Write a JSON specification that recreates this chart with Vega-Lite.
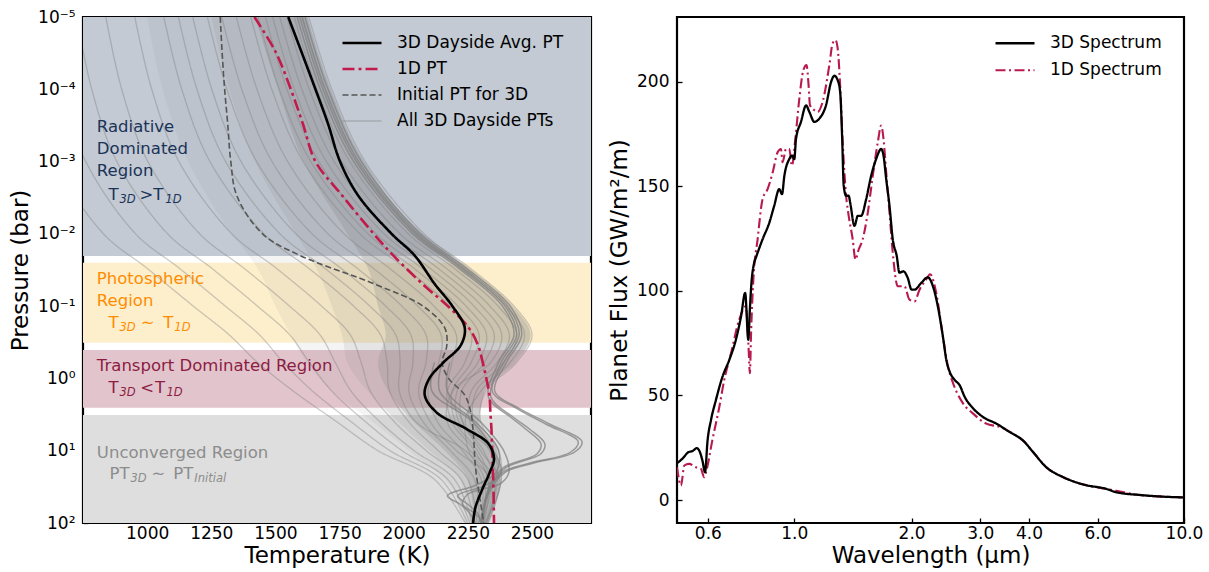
{
"$schema":"https://vega.github.io/schema/vega-lite/v6.json",
"padding":{"left":8,"top":6,"right":4,"bottom":0},
"background":"white",
"config":{
 "font":"DejaVu Sans",
 "view":{"stroke":"black","strokeWidth":2.2},
 "axis":{"grid":false,"domain":false,"tickColor":"black","tickSize":-5,"tickWidth":1.3,"labelFontSize":17,"labelColor":"black","titleFontSize":23,"titleFontWeight":"normal","titleColor":"black","labelFont":"DejaVu Sans","titleFont":"DejaVu Sans","labelOverlap":false},
 "axisX":{"labelPadding":7,"titlePadding":3},
 "axisY":{"labelPadding":13,"titlePadding":5},
 "legend":{"labelFontSize":17,"labelColor":"black","labelFont":"DejaVu Sans","symbolType":"stroke","padding":0,"rowPadding":0,"clipHeight":26,"labelOffset":14,"symbolSize":1521,"labelLimit":400}
},
"datasets":{
 "bands":[
  {"b":"rad","p0":1e-5,"p1":0.0202},
  {"b":"pho","p0":0.0251,"p1":0.32},
  {"b":"tra","p0":0.404,"p1":2.54},
  {"b":"unc","p0":3.2,"p1":100}
 ],
 "cloud":[
  {"p":1e-5,"s":"All 3D Dayside PTs","g01":1630,"g02":1602,"g03":1574,"g04":1545,"g05":1517,"g06":1489,"g07":1461,"g08":1432,"g09":1404,"g10":1348,"g11":1291,"g12":1235,"g13":1178,"g14":1122,"g15":1065,"g16":952,"g17":839,"g18":726,"g19":613,"g20":500,"cl":1420,"cr":1625,"hl":1250,"wl":1000},
  {"p":1e-4,"s":"All 3D Dayside PTs","g01":1720,"g02":1691,"g03":1662,"g04":1632,"g05":1603,"g06":1574,"g07":1545,"g08":1515,"g09":1486,"g10":1428,"g11":1369,"g12":1311,"g13":1252,"g14":1194,"g15":1135,"g16":1018,"g17":901,"g18":784,"g19":667,"g20":550,"cl":1510,"cr":1715,"hl":1320,"wl":1060},
  {"p":1e-3,"s":"All 3D Dayside PTs","g01":1850,"g02":1820,"g03":1790,"g04":1759,"g05":1729,"g06":1699,"g07":1669,"g08":1638,"g09":1608,"g10":1548,"g11":1487,"g12":1427,"g13":1366,"g14":1306,"g15":1245,"g16":1124,"g17":1003,"g18":882,"g19":761,"g20":640,"cl":1610,"cr":1845,"hl":1420,"wl":1160},
  {"p":0.01,"s":"All 3D Dayside PTs","g01":2080,"g02":2049,"g03":2018,"g04":1986,"g05":1955,"g06":1924,"g07":1893,"g08":1861,"g09":1830,"g10":1768,"g11":1705,"g12":1643,"g13":1580,"g14":1518,"g15":1455,"g16":1330,"g17":1205,"g18":1080,"g19":955,"g20":830,"cl":1780,"cr":2075,"hl":1580,"wl":1330},
  {"p":0.03,"s":"All 3D Dayside PTs","g01":2260,"g02":2229,"g03":2197,"g04":2166,"g05":2134,"g06":2103,"g07":2071,"g08":2040,"g09":2008,"g10":1945,"g11":1882,"g12":1819,"g13":1756,"g14":1693,"g15":1630,"g16":1504,"g17":1378,"g18":1252,"g19":1126,"g20":1000,"cl":1860,"cr":2255,"hl":1660,"wl":1430},
  {"p":0.1,"s":"All 3D Dayside PTs","g01":2430,"g02":2399,"g03":2368,"g04":2336,"g05":2305,"g06":2274,"g07":2243,"g08":2211,"g09":2180,"g10":2118,"g11":2055,"g12":1993,"g13":1930,"g14":1868,"g15":1805,"g16":1680,"g17":1555,"g18":1430,"g19":1305,"g20":1180,"cl":1900,"cr":2425,"hl":1720,"wl":1500},
  {"p":0.25,"s":"All 3D Dayside PTs","g01":2500,"g02":2471,"g03":2441,"g04":2412,"g05":2382,"g06":2353,"g07":2323,"g08":2294,"g09":2264,"g10":2205,"g11":2146,"g12":2087,"g13":2028,"g14":1969,"g15":1910,"g16":1792,"g17":1674,"g18":1556,"g19":1438,"g20":1320,"cl":1930,"cr":2495,"hl":1760,"wl":1560},
  {"p":0.6,"s":"All 3D Dayside PTs","g01":2440,"g02":2415,"g03":2390,"g04":2364,"g05":2339,"g06":2314,"g07":2289,"g08":2263,"g09":2238,"g10":2188,"g11":2137,"g12":2087,"g13":2036,"g14":1986,"g15":1935,"g16":1834,"g17":1733,"g18":1632,"g19":1531,"g20":1430,"cl":1900,"cr":2435,"hl":1780,"wl":1620},
  {"p":1.5,"s":"All 3D Dayside PTs","g01":2320,"g02":2301,"g03":2283,"g04":2264,"g05":2190,"g06":2226,"g07":2208,"g08":2189,"g09":2170,"g10":2170,"g11":2095,"g12":2058,"g13":2020,"g14":1983,"g15":1945,"g16":1870,"g17":1795,"g18":1720,"g19":1645,"g20":1570,"cl":1940,"cr":2315,"hl":1860,"wl":1720},
  {"p":4,"s":"All 3D Dayside PTs","g01":2300,"g02":2240,"g03":2272,"g04":2258,"g05":2170,"g06":2230,"g07":2216,"g08":2202,"g09":2188,"g10":2230,"g11":2132,"g12":2104,"g13":2076,"g14":2048,"g15":2020,"g16":1964,"g17":1908,"g18":1852,"g19":1796,"g20":1740,"cl":2040,"cr":2295,"hl":1980,"wl":1880},
  {"p":10,"s":"All 3D Dayside PTs","g01":2370,"g02":2300,"g03":2347,"g04":2335,"g05":2260,"g06":2311,"g07":2340,"g08":2288,"g09":2276,"g10":2253,"g11":2229,"g12":2206,"g13":2182,"g14":2240,"g15":2135,"g16":2088,"g17":2041,"g18":1994,"g19":1947,"g20":1900,"cl":2160,"cr":2365,"hl":2100,"wl":2020},
  {"p":25,"s":"All 3D Dayside PTs","g01":2380,"g02":2374,"g03":2367,"g04":2361,"g05":2354,"g06":2348,"g07":2380,"g08":2335,"g09":2328,"g10":2315,"g11":2302,"g12":2340,"g13":2276,"g14":2330,"g15":2250,"g16":2224,"g17":2198,"g18":2172,"g19":2146,"g20":2120,"cl":2250,"cr":2375,"hl":2220,"wl":2160},
  {"p":100,"s":"All 3D Dayside PTs","g01":2330,"g02":2328,"g03":2326,"g04":2323,"g05":2321,"g06":2319,"g07":2317,"g08":2314,"g09":2312,"g10":2308,"g11":2303,"g12":2299,"g13":2294,"g14":2290,"g15":2285,"g16":2276,"g17":2267,"g18":2258,"g19":2249,"g20":2240,"cl":2275,"cr":2325,"hl":2260,"wl":2240}
 ],
 "outl":[
  {"id":"o1a","p":1e-5,"t":1615},{"id":"o1a","p":1e-4,"t":1705},{"id":"o1a","p":1e-3,"t":1835},{"id":"o1a","p":0.01,"t":2065},{"id":"o1a","p":0.03,"t":2245},{"id":"o1a","p":0.1,"t":2415},{"id":"o1a","p":0.25,"t":2460},{"id":"o1a","p":0.6,"t":2400},{"id":"o1a","p":1.5,"t":2355},{"id":"o1a","p":2.6,"t":2450},{"id":"o1a","p":4.3,"t":2570},{"id":"o1a","p":7.5,"t":2695},{"id":"o1a","p":10.5,"t":2665},{"id":"o1a","p":15,"t":2500},{"id":"o1a","p":20,"t":2395},{"id":"o1a","p":40,"t":2330},{"id":"o1a","p":100,"t":2310},
  {"id":"o1b","p":1e-5,"t":1605},{"id":"o1b","p":1e-4,"t":1695},{"id":"o1b","p":1e-3,"t":1825},{"id":"o1b","p":0.01,"t":2055},{"id":"o1b","p":0.03,"t":2235},{"id":"o1b","p":0.1,"t":2405},{"id":"o1b","p":0.25,"t":2450},{"id":"o1b","p":0.6,"t":2390},{"id":"o1b","p":1.5,"t":2345},{"id":"o1b","p":2.6,"t":2440},{"id":"o1b","p":4.3,"t":2555},{"id":"o1b","p":7.5,"t":2680},{"id":"o1b","p":10.5,"t":2650},{"id":"o1b","p":15,"t":2485},{"id":"o1b","p":20,"t":2385},{"id":"o1b","p":40,"t":2325},{"id":"o1b","p":100,"t":2305},
  {"id":"o2a","p":1e-5,"t":1595},{"id":"o2a","p":1e-4,"t":1685},{"id":"o2a","p":1e-3,"t":1815},{"id":"o2a","p":0.01,"t":2045},{"id":"o2a","p":0.03,"t":2225},{"id":"o2a","p":0.1,"t":2395},{"id":"o2a","p":0.25,"t":2440},{"id":"o2a","p":0.6,"t":2380},{"id":"o2a","p":1.8,"t":2340},{"id":"o2a","p":3.5,"t":2430},{"id":"o2a","p":5,"t":2490},{"id":"o2a","p":8,"t":2550},{"id":"o2a","p":11,"t":2535},{"id":"o2a","p":17,"t":2400},{"id":"o2a","p":30,"t":2340},{"id":"o2a","p":100,"t":2300},
  {"id":"o2b","p":1e-5,"t":1585},{"id":"o2b","p":1e-4,"t":1675},{"id":"o2b","p":1e-3,"t":1805},{"id":"o2b","p":0.01,"t":2035},{"id":"o2b","p":0.03,"t":2215},{"id":"o2b","p":0.1,"t":2385},{"id":"o2b","p":0.25,"t":2430},{"id":"o2b","p":0.6,"t":2370},{"id":"o2b","p":1.8,"t":2330},{"id":"o2b","p":3.5,"t":2420},{"id":"o2b","p":5,"t":2475},{"id":"o2b","p":8,"t":2535},{"id":"o2b","p":11,"t":2520},{"id":"o2b","p":17,"t":2390},{"id":"o2b","p":30,"t":2335},{"id":"o2b","p":100,"t":2300},
  {"id":"w1","p":0.6,"t":2150},{"id":"w1","p":1.5,"t":2140},{"id":"w1","p":4,"t":2280},{"id":"w1","p":10,"t":2370},{"id":"w1","p":20,"t":2360},{"id":"w1","p":30,"t":2280},{"id":"w1","p":42,"t":2170},{"id":"w1","p":55,"t":2220},{"id":"w1","p":75,"t":2260},{"id":"w1","p":100,"t":2280},
  {"id":"w2","p":0.6,"t":2120},{"id":"w2","p":1.5,"t":2110},{"id":"w2","p":4,"t":2270},{"id":"w2","p":10,"t":2350},{"id":"w2","p":20,"t":2380},{"id":"w2","p":30,"t":2320},{"id":"w2","p":42,"t":2210},{"id":"w2","p":55,"t":2250},{"id":"w2","p":75,"t":2290},{"id":"w2","p":100,"t":2300},
  {"id":"w3","p":0.6,"t":2180},{"id":"w3","p":1.5,"t":2170},{"id":"w3","p":4,"t":2300},{"id":"w3","p":10,"t":2390},{"id":"w3","p":20,"t":2410},{"id":"w3","p":28,"t":2380},{"id":"w3","p":40,"t":2250},{"id":"w3","p":55,"t":2230},{"id":"w3","p":75,"t":2280},{"id":"w3","p":100,"t":2310}
 ],
 "pt":[
  {"s":"Initial PT for 3D","p":1e-5,"t":1285},{"s":"Initial PT for 3D","p":3e-5,"t":1292},{"s":"Initial PT for 3D","p":1e-4,"t":1302},{"s":"Initial PT for 3D","p":3e-4,"t":1314},{"s":"Initial PT for 3D","p":1e-3,"t":1326},{"s":"Initial PT for 3D","p":3e-3,"t":1350},{"s":"Initial PT for 3D","p":0.01,"t":1450},{"s":"Initial PT for 3D","p":0.02,"t":1597},{"s":"Initial PT for 3D","p":0.05,"t":1890},{"s":"Initial PT for 3D","p":0.1,"t":2075},{"s":"Initial PT for 3D","p":0.2,"t":2160},{"s":"Initial PT for 3D","p":0.35,"t":2168},{"s":"Initial PT for 3D","p":0.6,"t":2150},{"s":"Initial PT for 3D","p":1,"t":2175},{"s":"Initial PT for 3D","p":1.7,"t":2238},{"s":"Initial PT for 3D","p":3,"t":2262},{"s":"Initial PT for 3D","p":5,"t":2270},{"s":"Initial PT for 3D","p":8,"t":2274},{"s":"Initial PT for 3D","p":13,"t":2277},{"s":"Initial PT for 3D","p":20,"t":2282},{"s":"Initial PT for 3D","p":35,"t":2292},{"s":"Initial PT for 3D","p":60,"t":2302},{"s":"Initial PT for 3D","p":100,"t":2312},
  {"s":"1D PT","p":1e-5,"t":1418},{"s":"1D PT","p":3e-5,"t":1500},{"s":"1D PT","p":1e-4,"t":1560},{"s":"1D PT","p":3e-4,"t":1607},{"s":"1D PT","p":1e-3,"t":1656},{"s":"1D PT","p":3e-3,"t":1762},{"s":"1D PT","p":0.01,"t":1883},{"s":"1D PT","p":0.02,"t":1960},{"s":"1D PT","p":0.05,"t":2075},{"s":"1D PT","p":0.1,"t":2172},{"s":"1D PT","p":0.2,"t":2254},{"s":"1D PT","p":0.35,"t":2290},{"s":"1D PT","p":0.6,"t":2308},{"s":"1D PT","p":1,"t":2322},{"s":"1D PT","p":1.7,"t":2334},{"s":"1D PT","p":3,"t":2338},{"s":"1D PT","p":5,"t":2342},{"s":"1D PT","p":8,"t":2344},{"s":"1D PT","p":13,"t":2346},{"s":"1D PT","p":20,"t":2348},{"s":"1D PT","p":35,"t":2350},{"s":"1D PT","p":60,"t":2351},{"s":"1D PT","p":100,"t":2352},
  {"s":"3D Dayside Avg. PT","p":1e-5,"t":1550},{"s":"3D Dayside Avg. PT","p":3e-5,"t":1601},{"s":"3D Dayside Avg. PT","p":1e-4,"t":1656},{"s":"3D Dayside Avg. PT","p":3e-4,"t":1705},{"s":"3D Dayside Avg. PT","p":1e-3,"t":1752},{"s":"3D Dayside Avg. PT","p":3e-3,"t":1824},{"s":"3D Dayside Avg. PT","p":0.01,"t":1953},{"s":"3D Dayside Avg. PT","p":0.02,"t":2043},{"s":"3D Dayside Avg. PT","p":0.05,"t":2122},{"s":"3D Dayside Avg. PT","p":0.1,"t":2190},{"s":"3D Dayside Avg. PT","p":0.2,"t":2238},{"s":"3D Dayside Avg. PT","p":0.35,"t":2222},{"s":"3D Dayside Avg. PT","p":0.6,"t":2155},{"s":"3D Dayside Avg. PT","p":1,"t":2100},{"s":"3D Dayside Avg. PT","p":1.7,"t":2082},{"s":"3D Dayside Avg. PT","p":3,"t":2130},{"s":"3D Dayside Avg. PT","p":5,"t":2245},{"s":"3D Dayside Avg. PT","p":8,"t":2330},{"s":"3D Dayside Avg. PT","p":13,"t":2352},{"s":"3D Dayside Avg. PT","p":20,"t":2335},{"s":"3D Dayside Avg. PT","p":35,"t":2305},{"s":"3D Dayside Avg. PT","p":60,"t":2280},{"s":"3D Dayside Avg. PT","p":100,"t":2270}
 ],
 "ann":[
  {"t":804,"p":3.3e-4,"txt":"Radiative","c":"trad"},
  {"t":804,"p":6.8e-4,"txt":"Dominated","c":"trad"},
  {"t":804,"p":1.35e-3,"txt":"Region","c":"trad"},
  {"t":849,"p":2.88e-3,"txt":"T","c":"trad"},
  {"t":970,"p":2.88e-3,"txt":">","c":"trad"},
  {"t":1024,"p":2.88e-3,"txt":"T","c":"trad"},
  {"t":804,"p":0.0418,"txt":"Photospheric","c":"tpho"},
  {"t":804,"p":0.084,"txt":"Region","c":"tpho"},
  {"t":849,"p":0.171,"txt":"T","c":"tpho"},
  {"t":975,"p":0.171,"txt":"∼","c":"tpho"},
  {"t":1063,"p":0.171,"txt":"T","c":"tpho"},
  {"t":804,"p":0.673,"txt":"Transport Dominated Region","c":"ttra"},
  {"t":849,"p":1.377,"txt":"T","c":"ttra"},
  {"t":973,"p":1.377,"txt":"<","c":"ttra"},
  {"t":1031,"p":1.377,"txt":"T","c":"ttra"},
  {"t":804,"p":10.6,"txt":"Unconverged Region","c":"tunc"},
  {"t":853,"p":21.2,"txt":"PT","c":"tunc"},
  {"t":1017,"p":21.2,"txt":"∼","c":"tunc"},
  {"t":1102,"p":21.2,"txt":"PT","c":"tunc"}
 ],
 "sub":[
  {"t":892,"p":2.88e-3,"txt":"3D","c":"trad"},
  {"t":1071,"p":2.88e-3,"txt":"1D","c":"trad"},
  {"t":892,"p":0.171,"txt":"3D","c":"tpho"},
  {"t":1106,"p":0.171,"txt":"1D","c":"tpho"},
  {"t":892,"p":1.377,"txt":"3D","c":"ttra"},
  {"t":1075,"p":1.377,"txt":"1D","c":"ttra"},
  {"t":935,"p":21.2,"txt":"3D","c":"tunc"},
  {"t":1184,"p":21.2,"txt":"Initial","c":"tunc"}
 ],
 "spec":[
  {"sp":"1D Spectrum","w":0.5,"f":15.7},{"sp":"1D Spectrum","w":0.512,"f":6.9},{"sp":"1D Spectrum","w":0.522,"f":16.5},{"sp":"1D Spectrum","w":0.537,"f":17.3},{"sp":"1D Spectrum","w":0.559,"f":15.7},{"sp":"1D Spectrum","w":0.576,"f":14.9},{"sp":"1D Spectrum","w":0.587,"f":10.9},{"sp":"1D Spectrum","w":0.595,"f":14.1},{"sp":"1D Spectrum","w":0.616,"f":28.5},{"sp":"1D Spectrum","w":0.642,"f":44.5},{"sp":"1D Spectrum","w":0.661,"f":57.4},{"sp":"1D Spectrum","w":0.688,"f":70.2},{"sp":"1D Spectrum","w":0.722,"f":86.2},{"sp":"1D Spectrum","w":0.751,"f":92.6},{"sp":"1D Spectrum","w":0.763,"f":73.4},{"sp":"1D Spectrum","w":0.769,"f":60.6},{"sp":"1D Spectrum","w":0.775,"f":81.4},{"sp":"1D Spectrum","w":0.785,"f":105.4},{"sp":"1D Spectrum","w":0.805,"f":124.7},{"sp":"1D Spectrum","w":0.829,"f":143.9},{"sp":"1D Spectrum","w":0.854,"f":148.7},{"sp":"1D Spectrum","w":0.88,"f":156.7},{"sp":"1D Spectrum","w":0.906,"f":166.3},{"sp":"1D Spectrum","w":0.924,"f":167.9},{"sp":"1D Spectrum","w":0.933,"f":161.5},{"sp":"1D Spectrum","w":0.952,"f":167.9},{"sp":"1D Spectrum","w":0.971,"f":167.9},{"sp":"1D Spectrum","w":0.986,"f":159.9},{"sp":"1D Spectrum","w":1.006,"f":172.7},{"sp":"1D Spectrum","w":1.03,"f":191.9},{"sp":"1D Spectrum","w":1.055,"f":205.6},{"sp":"1D Spectrum","w":1.075,"f":208},{"sp":"1D Spectrum","w":1.088,"f":198.4},{"sp":"1D Spectrum","w":1.097,"f":188.8},{"sp":"1D Spectrum","w":1.126,"f":186.4},{"sp":"1D Spectrum","w":1.148,"f":185.6},{"sp":"1D Spectrum","w":1.182,"f":190.4},{"sp":"1D Spectrum","w":1.23,"f":208},{"sp":"1D Spectrum","w":1.254,"f":218.4},{"sp":"1D Spectrum","w":1.275,"f":220},{"sp":"1D Spectrum","w":1.292,"f":216},{"sp":"1D Spectrum","w":1.311,"f":198.4},{"sp":"1D Spectrum","w":1.331,"f":171.2},{"sp":"1D Spectrum","w":1.358,"f":145.5},{"sp":"1D Spectrum","w":1.379,"f":135.9},{"sp":"1D Spectrum","w":1.412,"f":124.7},{"sp":"1D Spectrum","w":1.435,"f":115},{"sp":"1D Spectrum","w":1.463,"f":119.8},{"sp":"1D Spectrum","w":1.498,"f":124.7},{"sp":"1D Spectrum","w":1.544,"f":137.5},{"sp":"1D Spectrum","w":1.59,"f":155.1},{"sp":"1D Spectrum","w":1.638,"f":171.2},{"sp":"1D Spectrum","w":1.671,"f":179.1},{"sp":"1D Spectrum","w":1.694,"f":172.7},{"sp":"1D Spectrum","w":1.721,"f":156.7},{"sp":"1D Spectrum","w":1.755,"f":137.5},{"sp":"1D Spectrum","w":1.789,"f":118.3},{"sp":"1D Spectrum","w":1.843,"f":102.2},{"sp":"1D Spectrum","w":1.917,"f":102.2},{"sp":"1D Spectrum","w":1.975,"f":95.8},{"sp":"1D Spectrum","w":2.035,"f":95},{"sp":"1D Spectrum","w":2.096,"f":100.6},{"sp":"1D Spectrum","w":2.179,"f":105.4},{"sp":"1D Spectrum","w":2.23,"f":108},{"sp":"1D Spectrum","w":2.313,"f":99},{"sp":"1D Spectrum","w":2.406,"f":78.2},{"sp":"1D Spectrum","w":2.48,"f":63.8},{"sp":"1D Spectrum","w":2.556,"f":55.8},{"sp":"1D Spectrum","w":2.71,"f":46.2},{"sp":"1D Spectrum","w":2.877,"f":41.3},{"sp":"1D Spectrum","w":3.11,"f":36.5},{"sp":"1D Spectrum","w":3.37,"f":34.9},{"sp":"1D Spectrum","w":3.64,"f":31.7},{"sp":"1D Spectrum","w":3.9,"f":27.7},{"sp":"1D Spectrum","w":4.1,"f":22.9},{"sp":"1D Spectrum","w":4.43,"f":15.7},{"sp":"1D Spectrum","w":4.9,"f":10.9},{"sp":"1D Spectrum","w":5.52,"f":7.4},{"sp":"1D Spectrum","w":6.32,"f":5.3},{"sp":"1D Spectrum","w":7.71,"f":2.4},{"sp":"1D Spectrum","w":9.96,"f":1.25},
  {"sp":"3D Spectrum","w":0.5,"f":17.6},{"sp":"3D Spectrum","w":0.516,"f":19.7},{"sp":"3D Spectrum","w":0.535,"f":22.9},{"sp":"3D Spectrum","w":0.548,"f":23.4},{"sp":"3D Spectrum","w":0.562,"f":24.8},{"sp":"3D Spectrum","w":0.57,"f":23.7},{"sp":"3D Spectrum","w":0.581,"f":18.9},{"sp":"3D Spectrum","w":0.59,"f":13.3},{"sp":"3D Spectrum","w":0.599,"f":28.5},{"sp":"3D Spectrum","w":0.611,"f":38.1},{"sp":"3D Spectrum","w":0.629,"f":47.7},{"sp":"3D Spectrum","w":0.654,"f":58.9},{"sp":"3D Spectrum","w":0.681,"f":67},{"sp":"3D Spectrum","w":0.708,"f":76.6},{"sp":"3D Spectrum","w":0.73,"f":87.8},{"sp":"3D Spectrum","w":0.748,"f":99},{"sp":"3D Spectrum","w":0.762,"f":76.6},{"sp":"3D Spectrum","w":0.769,"f":91},{"sp":"3D Spectrum","w":0.775,"f":102},{"sp":"3D Spectrum","w":0.789,"f":113.5},{"sp":"3D Spectrum","w":0.797,"f":115.9},{"sp":"3D Spectrum","w":0.829,"f":124.7},{"sp":"3D Spectrum","w":0.863,"f":132.7},{"sp":"3D Spectrum","w":0.888,"f":140.7},{"sp":"3D Spectrum","w":0.915,"f":148.7},{"sp":"3D Spectrum","w":0.93,"f":146.3},{"sp":"3D Spectrum","w":0.943,"f":155.1},{"sp":"3D Spectrum","w":0.971,"f":163.1},{"sp":"3D Spectrum","w":0.986,"f":164.7},{"sp":"3D Spectrum","w":1.0,"f":163},{"sp":"3D Spectrum","w":1.01,"f":172.7},{"sp":"3D Spectrum","w":1.04,"f":180.8},{"sp":"3D Spectrum","w":1.072,"f":188.7},{"sp":"3D Spectrum","w":1.093,"f":185.6},{"sp":"3D Spectrum","w":1.126,"f":180.8},{"sp":"3D Spectrum","w":1.159,"f":182.4},{"sp":"3D Spectrum","w":1.206,"f":188.8},{"sp":"3D Spectrum","w":1.243,"f":200},{"sp":"3D Spectrum","w":1.267,"f":202.9},{"sp":"3D Spectrum","w":1.292,"f":200.8},{"sp":"3D Spectrum","w":1.311,"f":195.2},{"sp":"3D Spectrum","w":1.327,"f":172.7},{"sp":"3D Spectrum","w":1.339,"f":150.3},{"sp":"3D Spectrum","w":1.358,"f":145.5},{"sp":"3D Spectrum","w":1.379,"f":145.5},{"sp":"3D Spectrum","w":1.391,"f":142.3},{"sp":"3D Spectrum","w":1.427,"f":131.1},{"sp":"3D Spectrum","w":1.455,"f":135.9},{"sp":"3D Spectrum","w":1.484,"f":135.9},{"sp":"3D Spectrum","w":1.529,"f":143.9},{"sp":"3D Spectrum","w":1.575,"f":155.1},{"sp":"3D Spectrum","w":1.622,"f":163.1},{"sp":"3D Spectrum","w":1.671,"f":167.9},{"sp":"3D Spectrum","w":1.694,"f":164.7},{"sp":"3D Spectrum","w":1.721,"f":153.5},{"sp":"3D Spectrum","w":1.755,"f":140.7},{"sp":"3D Spectrum","w":1.789,"f":124.7},{"sp":"3D Spectrum","w":1.832,"f":116.6},{"sp":"3D Spectrum","w":1.861,"f":108.7},{"sp":"3D Spectrum","w":1.905,"f":109.4},{"sp":"3D Spectrum","w":1.954,"f":106.3},{"sp":"3D Spectrum","w":2.0,"f":100.6},{"sp":"3D Spectrum","w":2.035,"f":100.6},{"sp":"3D Spectrum","w":2.117,"f":103.8},{"sp":"3D Spectrum","w":2.2,"f":106.5},{"sp":"3D Spectrum","w":2.269,"f":102.2},{"sp":"3D Spectrum","w":2.335,"f":92.6},{"sp":"3D Spectrum","w":2.406,"f":78.2},{"sp":"3D Spectrum","w":2.455,"f":67},{"sp":"3D Spectrum","w":2.505,"f":61.3},{"sp":"3D Spectrum","w":2.58,"f":57.4},{"sp":"3D Spectrum","w":2.656,"f":54.9},{"sp":"3D Spectrum","w":2.737,"f":49.3},{"sp":"3D Spectrum","w":2.877,"f":43.8},{"sp":"3D Spectrum","w":3.049,"f":39.7},{"sp":"3D Spectrum","w":3.3,"f":36.5},{"sp":"3D Spectrum","w":3.57,"f":32.5},{"sp":"3D Spectrum","w":3.86,"f":28.5},{"sp":"3D Spectrum","w":4.1,"f":22.9},{"sp":"3D Spectrum","w":4.43,"f":15.7},{"sp":"3D Spectrum","w":4.9,"f":10.9},{"sp":"3D Spectrum","w":5.52,"f":7.4},{"sp":"3D Spectrum","w":6.32,"f":5.3},{"sp":"3D Spectrum","w":6.71,"f":3.7},{"sp":"3D Spectrum","w":7.71,"f":2.4},{"sp":"3D Spectrum","w":8.85,"f":1.6},{"sp":"3D Spectrum","w":9.96,"f":1.25}
 ]
},
"spacing":14,
"resolve":{"scale":{"x":"independent","y":"independent","color":"independent","strokeDash":"independent","strokeWidth":"independent","opacity":"independent","fill":"independent"},"legend":{"color":"independent","strokeDash":"independent","strokeWidth":"independent","opacity":"independent"}},
"hconcat":[
{
 "width":508,"height":506,
 "layer":[
  {"data":{"name":"bands"},"mark":{"type":"rect"},
   "encoding":{
    "y":{"field":"p0","type":"quantitative","scale":{"type":"log","domain":[1e-5,100],"reverse":true,"nice":false},"title":"Pressure (bar)","axis":{"values":[1e-5,1e-4,1e-3,1e-2,1e-1,1,10,100],"labelExpr":"['10⁻⁵','10⁻⁴','10⁻³','10⁻²','10⁻¹','10⁰','10¹','10²'][round(log(datum.value)/LN10)+5]"}},
    "y2":{"field":"p1"},
    "fill":{"field":"b","type":"nominal","scale":{"domain":["rad","pho","tra","unc","trad","tpho","ttra","tunc"],"range":["#c3cad3","#fdefcc","#e2c5cc","#dedede","#1a3358","#ff8c00","#8c1c44","#8c8c8c"]},"legend":null}
   }},
  {"data":{"name":"cloud"},"mark":{"type":"area","orient":"horizontal","interpolate":"monotone","clip":true,"fill":"#808080","opacity":0.09},
   "encoding":{
    "x":{"field":"wl","type":"quantitative","stack":null,"scale":{"domain":[750,2730],"nice":false,"zero":false},"title":"Temperature (K)","axis":{"values":[1000,1250,1500,1750,2000,2250,2500],"format":"d"}},
    "x2":{"field":"cr"},
    "y":{"field":"p","type":"quantitative","scale":{"type":"log","domain":[1e-5,100],"reverse":true,"nice":false},"title":"Pressure (bar)"}
   }},
  {"data":{"name":"cloud"},"mark":{"type":"area","orient":"horizontal","interpolate":"monotone","clip":true,"fill":"#808080","opacity":0.13},
   "encoding":{
    "x":{"field":"hl","type":"quantitative","stack":null,"title":"Temperature (K)"},
    "x2":{"field":"cr"},
    "y":{"field":"p","type":"quantitative","title":"Pressure (bar)"}
   }},
  {"data":{"name":"cloud"},"mark":{"type":"area","orient":"horizontal","interpolate":"monotone","clip":true,"fill":"#808080","opacity":0.24},
   "encoding":{
    "x":{"field":"cl","type":"quantitative","stack":null,"title":"Temperature (K)"},
    "x2":{"field":"cr"},
    "y":{"field":"p","type":"quantitative","title":"Pressure (bar)"}
   }},
  {"data":{"name":"cloud"},
   "transform":[{"fold":["g01","g02","g03","g04","g05","g06","g07","g08","g09","g10","g11","g12","g13","g14","g15","g16","g17","g18","g19","g20"],"as":["k","t"]}],
   "mark":{"type":"line","interpolate":"catmull-rom","clip":true},
   "encoding":{
    "x":{"field":"t","type":"quantitative","title":"Temperature (K)"},
    "y":{"field":"p","type":"quantitative","title":"Pressure (bar)"},
    "detail":{"field":"k"},
    "order":{"field":"p"},
    "color":{"field":"s","type":"nominal","title":null,"scale":{"domain":["3D Dayside Avg. PT","1D PT","Initial PT for 3D","All 3D Dayside PTs"],"range":["#000000","#c11a4b","#555555","#808080"]},"legend":{"orient":"none","legendX":258,"legendY":13,"clipHeight":26}},
    "strokeDash":{"field":"s","type":"nominal","title":null,"scale":{"domain":["3D Dayside Avg. PT","1D PT","Initial PT for 3D","All 3D Dayside PTs"],"range":[[1,0],[12,4,3,4],[6,3],[1,0]]},"legend":{"orient":"none","legendX":258,"legendY":13,"clipHeight":26}},
    "strokeWidth":{"field":"s","type":"nominal","title":null,"scale":{"type":"ordinal","domain":["3D Dayside Avg. PT","1D PT","Initial PT for 3D","All 3D Dayside PTs"],"range":[2.6,2.6,1.6,1.3]},"legend":{"orient":"none","legendX":258,"legendY":13,"clipHeight":26}},
    "opacity":{"field":"s","type":"nominal","title":null,"scale":{"type":"ordinal","domain":["3D Dayside Avg. PT","1D PT","Initial PT for 3D","All 3D Dayside PTs"],"range":[1,1,1,0.4]},"legend":{"orient":"none","legendX":258,"legendY":13,"clipHeight":26}}
   }},
  {"data":{"name":"outl"},"mark":{"type":"line","interpolate":"catmull-rom","clip":true,"color":"#808080","opacity":0.75,"strokeWidth":1.5},
   "encoding":{
    "x":{"field":"t","type":"quantitative","title":"Temperature (K)"},
    "y":{"field":"p","type":"quantitative","title":"Pressure (bar)"},
    "detail":{"field":"id"},
    "order":{"field":"p"}
   }},
  {"data":{"name":"pt"},"mark":{"type":"line","interpolate":"catmull-rom","clip":true},
   "encoding":{
    "x":{"field":"t","type":"quantitative","title":"Temperature (K)"},
    "y":{"field":"p","type":"quantitative","title":"Pressure (bar)"},
    "order":{"field":"p"},
    "color":{"field":"s","type":"nominal","title":null,"scale":{"domain":["3D Dayside Avg. PT","1D PT","Initial PT for 3D","All 3D Dayside PTs"],"range":["#000000","#c11a4b","#555555","#808080"]},"legend":{"orient":"none","legendX":258,"legendY":13,"clipHeight":26}},
    "strokeDash":{"field":"s","type":"nominal","title":null,"scale":{"domain":["3D Dayside Avg. PT","1D PT","Initial PT for 3D","All 3D Dayside PTs"],"range":[[1,0],[12,4,3,4],[6,3],[1,0]]},"legend":{"orient":"none","legendX":258,"legendY":13,"clipHeight":26}},
    "strokeWidth":{"field":"s","type":"nominal","title":null,"scale":{"type":"ordinal","domain":["3D Dayside Avg. PT","1D PT","Initial PT for 3D","All 3D Dayside PTs"],"range":[2.6,2.6,1.6,1.3]},"legend":{"orient":"none","legendX":258,"legendY":13,"clipHeight":26}},
    "opacity":{"field":"s","type":"nominal","title":null,"scale":{"type":"ordinal","domain":["3D Dayside Avg. PT","1D PT","Initial PT for 3D","All 3D Dayside PTs"],"range":[1,1,1,0.4]},"legend":{"orient":"none","legendX":258,"legendY":13,"clipHeight":26}}
   }},
  {"data":{"name":"ann"},"mark":{"type":"text","align":"left","baseline":"middle","fontSize":16.5,"font":"DejaVu Sans"},
   "encoding":{
    "x":{"field":"t","type":"quantitative","title":"Temperature (K)"},
    "y":{"field":"p","type":"quantitative","title":"Pressure (bar)"},
    "text":{"field":"txt"},
    "fill":{"field":"c","type":"nominal","legend":null}
   }},
  {"data":{"name":"sub"},"mark":{"type":"text","align":"left","baseline":"middle","fontSize":11.5,"fontStyle":"italic","dy":5,"font":"DejaVu Sans"},
   "encoding":{
    "x":{"field":"t","type":"quantitative","title":"Temperature (K)"},
    "y":{"field":"p","type":"quantitative","title":"Pressure (bar)"},
    "text":{"field":"txt"},
    "fill":{"field":"c","type":"nominal","legend":null}
   }}
 ]
},
{
 "width":507,"height":506,
 "data":{"name":"spec"},
 "layer":[
  {"transform":[{"filter":"datum.sp == '1D Spectrum'"}],
   "mark":{"type":"line","interpolate":"monotone","clip":true},
   "encoding":{
    "x":{"field":"w","type":"quantitative","scale":{"type":"log","domain":[0.5,10],"nice":false},"title":"Wavelength (μm)","axis":{"values":[0.6,1,2,3,4,6,10],"format":".1f","labelFlush":false}},
    "y":{"field":"f","type":"quantitative","scale":{"domain":[-11,231],"nice":false,"zero":false},"title":"Planet Flux (GW/m²/m)","axis":{"values":[0,50,100,150,200]}},
    "color":{"field":"sp","type":"nominal","title":null,"scale":{"domain":["3D Spectrum","1D Spectrum"],"range":["#000000","#b8194f"]},"legend":{"orient":"none","legendX":317,"legendY":13,"clipHeight":26.5}},
    "strokeDash":{"field":"sp","type":"nominal","title":null,"scale":{"domain":["3D Spectrum","1D Spectrum"],"range":[[1,0],[10,3.5,2,3.5]]},"legend":{"orient":"none","legendX":317,"legendY":13,"clipHeight":26.5}},
    "strokeWidth":{"field":"sp","type":"nominal","title":null,"scale":{"type":"ordinal","domain":["3D Spectrum","1D Spectrum"],"range":[2.3,2.1]},"legend":{"orient":"none","legendX":317,"legendY":13,"clipHeight":26.5}}
   }},
  {"transform":[{"filter":"datum.sp == '3D Spectrum'"}],
   "mark":{"type":"line","interpolate":"monotone","clip":true},
   "encoding":{
    "x":{"field":"w","type":"quantitative","title":"Wavelength (μm)"},
    "y":{"field":"f","type":"quantitative","title":"Planet Flux (GW/m²/m)"},
    "color":{"field":"sp","type":"nominal","title":null,"scale":{"domain":["3D Spectrum","1D Spectrum"],"range":["#000000","#b8194f"]},"legend":{"orient":"none","legendX":317,"legendY":13,"clipHeight":26.5}},
    "strokeDash":{"field":"sp","type":"nominal","title":null,"scale":{"domain":["3D Spectrum","1D Spectrum"],"range":[[1,0],[10,3.5,2,3.5]]},"legend":{"orient":"none","legendX":317,"legendY":13,"clipHeight":26.5}},
    "strokeWidth":{"field":"sp","type":"nominal","title":null,"scale":{"type":"ordinal","domain":["3D Spectrum","1D Spectrum"],"range":[2.3,2.1]},"legend":{"orient":"none","legendX":317,"legendY":13,"clipHeight":26.5}}
   }}
 ]
}
]
}
